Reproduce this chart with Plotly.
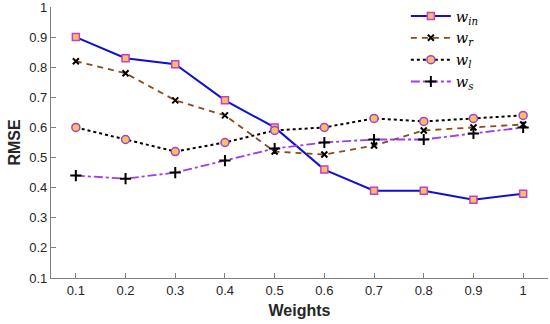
import plotly.graph_objects as go

weights = [0.1, 0.2, 0.3, 0.4, 0.5, 0.6, 0.7, 0.8, 0.9, 1.0]
w_in = [0.90, 0.83, 0.81, 0.69, 0.60, 0.46, 0.39, 0.39, 0.36, 0.38]
w_r = [0.82, 0.78, 0.69, 0.64, 0.52, 0.51, 0.54, 0.59, 0.60, 0.61]
w_l = [0.60, 0.56, 0.52, 0.55, 0.59, 0.60, 0.63, 0.62, 0.63, 0.64]
w_s = [0.44, 0.43, 0.45, 0.49, 0.53, 0.55, 0.56, 0.56, 0.58, 0.60]

x_ticks = [0.1, 0.2, 0.3, 0.4, 0.5, 0.6, 0.7, 0.8, 0.9, 1.0]
x_ticktext = ["0.1", "0.2", "0.3", "0.4", "0.5", "0.6", "0.7", "0.8", "0.9", "1"]
y_ticks = [0.1, 0.2, 0.3, 0.4, 0.5, 0.6, 0.7, 0.8, 0.9, 1.0]
y_ticktext = ["0.1", "0.2", "0.3", "0.4", "0.5", "0.6", "0.7", "0.8", "0.9", "1"]

fig = go.Figure()

fig.add_trace(go.Scatter(
    x=weights, y=w_in, mode="lines+markers",
    name="<i>w</i><sub><i>in</i></sub>",
    line=dict(color="#1010d0", width=2, dash="solid"),
    marker=dict(symbol="square", size=7, color="#f8c060",
                line=dict(color="#c040d0", width=1.5)),
))
fig.add_trace(go.Scatter(
    x=weights, y=w_r, mode="lines+markers",
    name="<i>w</i><sub><i>r</i></sub>",
    line=dict(color="#8b4a1c", width=1.8, dash="6px,5px"),
    marker=dict(symbol="x-thin", size=6, color="black",
                line=dict(color="black", width=2)),
))
fig.add_trace(go.Scatter(
    x=weights, y=w_l, mode="lines+markers",
    name="<i>w</i><sub><i>l</i></sub>",
    line=dict(color="black", width=2, dash="dot"),
    marker=dict(symbol="circle", size=8, color="#f8c060",
                line=dict(color="#a040d0", width=1.5)),
))
fig.add_trace(go.Scatter(
    x=weights, y=w_s, mode="lines+markers",
    name="<i>w</i><sub><i>s</i></sub>",
    line=dict(color="#9a3ef0", width=1.8, dash="dashdot"),
    marker=dict(symbol="cross-thin", size=8, color="black",
                line=dict(color="black", width=2)),
))

axis_common = dict(
    showline=True, linecolor="#808080", linewidth=1.2,
    ticks="inside", ticklen=5, tickcolor="#808080",
    showgrid=False, zeroline=False, mirror=False, automargin=False,
    ticklabeloverflow="allow",
    tickfont=dict(family="Liberation Sans, Arial, sans-serif", size=13, color="#262626"),
)

fig.update_layout(
    width=550, height=324,
    margin=dict(l=51, r=2, t=7, b=46, autoexpand=False),
    paper_bgcolor="white", plot_bgcolor="white",
    showlegend=True,
    legend=dict(
        x=0.714, y=1.0, xanchor="left", yanchor="top", yref="container",
        bgcolor="rgba(255,255,255,0)",
        font=dict(family="DejaVu Serif, serif", size=14.5, color="black"),
        tracegroupgap=0, itemwidth=40,
    ),
    xaxis=dict(
        range=[0.05, 1.05], tickvals=x_ticks, ticktext=x_ticktext,
        title=dict(text="<b>Weights</b>", standoff=8,
                   font=dict(family="Liberation Sans, Arial, sans-serif", size=16, color="#262626")),
        **axis_common,
    ),
    yaxis=dict(
        range=[0.1, 1.0], tickvals=y_ticks, ticktext=y_ticktext,
        title=dict(text="<b>RMSE</b>", standoff=4,
                   font=dict(family="Liberation Sans, Arial, sans-serif", size=16, color="#262626")),
        **axis_common,
    ),
)

fig.write_html("out.html", config={"displayModeBar": False},
               post_script="document.body.style.margin='0px';document.body.style.overflow='hidden';")
